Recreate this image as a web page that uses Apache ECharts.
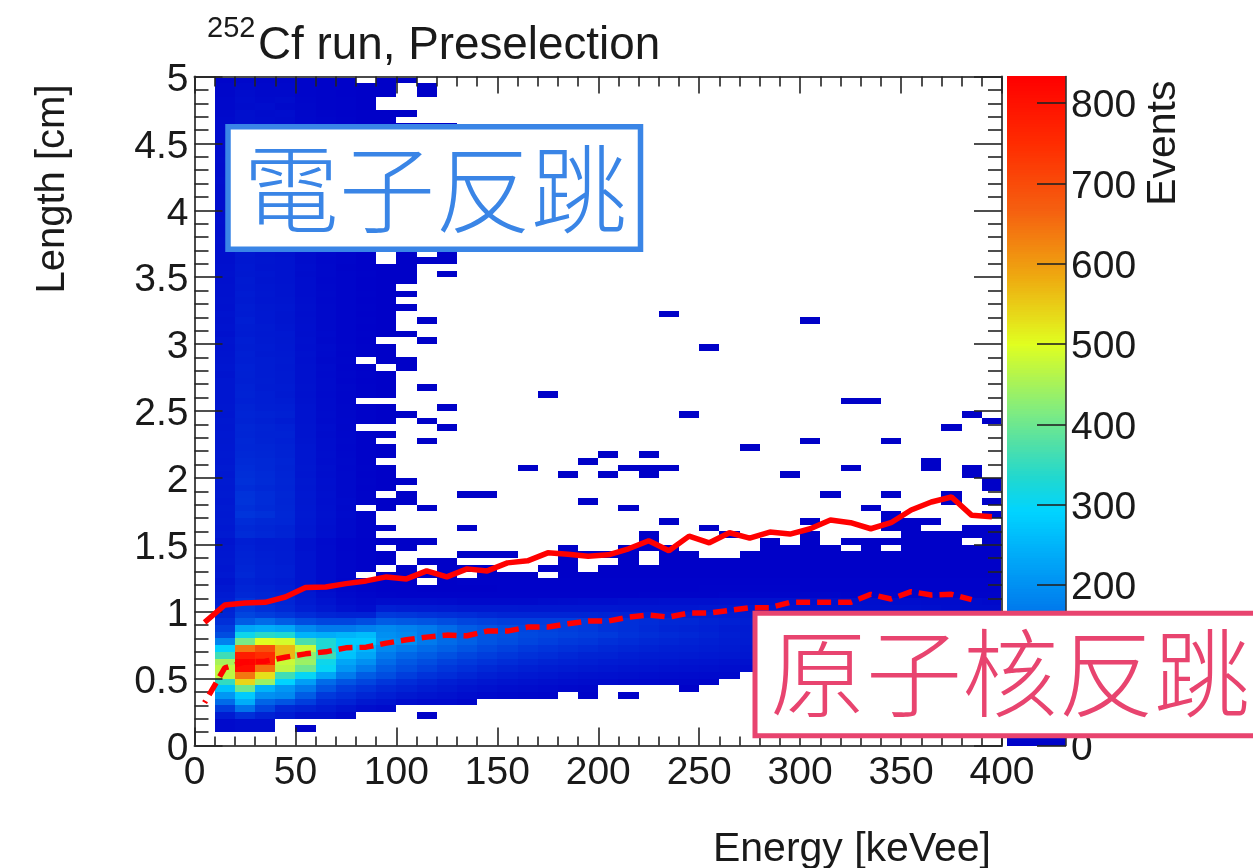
<!DOCTYPE html>
<html>
<head>
<meta charset="utf-8">
<style>html,body{margin:0;padding:0;background:#fff}#c{width:1253px;height:868px}</style>
<script src="https://cdn.jsdelivr.net/npm/echarts@6/dist/echarts.min.js"></script>
</head>
<body>
<div id="c"></div>
<script>
var energyTicks = [0, 50, 100, 150, 200, 250, 300, 350, 400];
var lengthTicks = [0, 0.5, 1, 1.5, 2, 2.5, 3, 3.5, 4, 4.5, 5];
var eventTicks = [0, 100, 200, 300, 400, 500, 600, 700, 800];
var energyBinWidth = 10;
var lengthBinWidth = 0.05;
var eventMax = 833;
var palette = ['#0000c8','#001cd2','#0038dc','#0058e4','#0078ec','#0096f4','#00b4fa','#00d4ff','#20d8d0','#50e0a8','#80ec80','#b0f450','#e0ff20','#e8d418','#eeaa10','#f28510','#f56010','#fa4608','#ff2c00','#ff1600','#ff0000'];

// length rows 30 down to 2; each row lists energy bins 1, 2, 3 ...
var lowRowStart = 30;
var lowBandRows = [
[30,45,40,40,25,15,8,4,2,2,1,0,0,0,0,0,0,0,0,0,0,1,0,0,0,0,0,1,0,1,0,1,1,1,1,1,1,0,1],
[32,48,42,40,26,16,8,4,0,1,0,0,0,0,0,0,0,1,0,0,1,1,1,0,0,0,0,1,1,1,1,0,1,0,1,1,1,1,1],
[34,50,45,42,28,16,9,5,2,0,0,0,1,1,1,0,0,1,1,1,1,0,1,1,0,0,1,1,1,1,1,1,1,1,1,1,1,1,1],
[35,52,46,42,28,16,9,5,2,0,1,1,0,0,0,0,0,1,0,0,1,0,2,2,2,2,2,2,2,2,2,2,2,2,2,2,2,2,2],
[33,55,48,44,28,16,9,5,0,1,0,1,1,1,0,0,1,2,0,2,2,2,2,2,2,2,2,2,2,2,2,2,2,2,2,2,2,2,2],
[36,58,48,44,28,17,9,0,2,2,1,1,0,2,2,2,0,2,2,2,2,2,2,2,2,2,2,2,2,2,2,2,2,2,2,2,2,2,2],
[30,50,45,40,28,16,8,5,3,2,0,2,3,3,3,3,3,3,3,3,3,3,3,3,3,3,3,3,3,3,3,3,3,3,3,3,3,3,3],
[35,55,50,45,30,18,10,6,3,3,2,2,2,2,3,3,3,3,3,3,3,3,3,3,4,4,4,4,4,3,3,3,3,3,3,3,3,3,3],
[40,60,55,50,35,22,14,9,6,5,5,4,4,4,4,5,5,5,5,5,5,6,6,6,6,7,7,7,7,7,7,6,6,6,6,6,6,5,5],
[45,75,60,55,38,28,18,13,18,18,18,16,14,14,14,14,16,18,20,20,22,22,24,24,24,26,26,26,25,24,22,22,22,20,20,18,18,16,14],
[50,85,70,60,45,35,25,20,45,42,40,38,35,35,35,34,34,34,34,34,32,32,32,32,35,35,35,32,30,28,26,26,24,24,24,22,20,18,18],
[55,100,90,80,65,55,50,50,85,80,75,70,65,60,55,55,55,55,55,52,50,48,45,45,45,42,40,38,35,33,30,30,28,28,26,25,24,22,20],
[70,130,150,130,110,100,100,110,130,125,120,110,100,95,90,90,90,90,85,75,70,65,60,58,52,48,45,40,38,35,33,32,30,28,27,26,25,24,22],
[90,230,240,230,190,170,170,180,190,180,170,150,130,120,110,100,95,90,85,75,70,62,55,52,48,42,40,36,35,32,30,30,28,26,25,24,22,22,20],
[110,310,340,330,250,240,250,260,200,190,170,150,130,120,115,105,100,95,90,85,75,68,62,58,52,45,42,38,36,35,32,32,30,28,26,26,24,24,22],
[180,410,500,490,370,330,280,280,210,200,170,150,135,120,110,100,92,85,80,72,65,60,55,50,46,42,40,38,36,34,32,30,28,28,26,25,24,22,22],
[290,640,690,570,480,330,280,250,190,170,150,135,120,105,95,85,78,72,65,60,55,50,46,44,42,38,36,34,32,30,28,28,26,25,24,22,22,20,20],
[360,780,750,570,430,360,270,230,170,145,130,115,100,90,80,72,65,58,52,50,45,42,40,38,36,34,32,30,28,28,26,24,24,22,22,20,20,18,18],
[450,830,760,480,440,310,230,200,150,125,110,95,85,75,65,58,52,48,44,40,38,35,32,30,28,26,25,24,24,22,22,20,20,18,18,16,16,15,15],
[470,810,650,470,400,300,210,170,130,110,95,80,70,60,52,46,42,38,35,32,30,28,26,24,22,20,20,20,18,18,16,16,15,15,14,14,12,12,12],
[470,640,530,360,300,230,170,130,110,90,75,65,55,46,40,36,32,28,26,24,22,20,18,16,15,15],
[350,540,440,290,220,150,120,100,80,65,55,45,38,32,28,25,22,20,18,16,14,12,10,10,8],
[270,400,250,210,170,120,90,75,60,50,42,35,28,24,20,18,15,12,10,0,0,0,0,3],
[210,280,200,190,130,85,70,55,45,35,30,25,20,15,12,10,9,0,6,0,3],
[150,240,140,120,90,60,50,35,30,20,15,15,10],
[90,160,100,60,50,40,30,20,15],
[40,70,50,40,25,25,15],
[15,20,20],
[15,20,20,0,3]
];

// length rows 99 down to 31; energy bins 1 to 9
var upperRowStart = 99;
var upperBandRows = [
[8,12,10,10,7,5,3,0,2],
[10,15,12,12,8,5,3,2,1],
[10,18,14,14,8,6,3,2,1],
[12,20,15,18,9,6,4,2,0],
[12,18,20,14,10,6,4,2,0],
[14,22,18,20,10,6,3,2,1],
[15,22,20,18,11,7,4,2,1],
[15,24,20,18,12,7,4,2,1],
[16,23,20,19,12,7,4,2,1],
[16,25,22,19,12,8,4,2,1],
[17,24,21,20,13,7,4,3,1],
[16,26,22,20,12,8,5,2,1],
[18,25,23,21,13,8,4,3,1],
[17,27,22,21,14,8,5,3,1],
[18,26,24,22,13,9,4,2,1],
[19,28,23,21,14,8,5,3,1],
[18,27,25,22,14,9,5,3,1],
[20,29,24,23,15,9,5,3,1],
[19,28,26,23,14,8,5,2,1],
[20,30,25,24,15,9,6,3,1],
[20,29,26,23,16,10,5,3,1],
[21,31,27,24,15,9,6,3,1],
[20,30,26,25,16,10,5,3,1],
[21,32,27,25,17,10,6,3,1],
[22,31,28,24,16,11,6,3,1],
[21,33,28,26,17,10,6,3,1],
[22,35,30,27,18,12,7,3,0],
[22,34,31,28,18,11,7,3,0],
[24,36,30,28,19,12,6,3,1],
[25,35,32,29,18,12,7,4,1],
[24,38,31,28,19,11,7,3,1],
[26,37,33,30,20,12,7,3,1],
[25,40,34,30,20,13,7,4,1],
[27,38,33,31,21,12,8,3,1],
[26,42,35,32,22,13,7,4,1],
[28,40,36,31,21,14,8,3,1],
[27,44,36,31,22,13,8,4,1],
[28,42,38,32,23,14,7,3,1],
[26,40,37,36,22,15,8,4,1],
[30,44,38,35,24,14,8,3,0],
[29,43,40,36,23,16,9,4,1],
[30,46,39,37,25,15,8,4,1],
[31,45,41,38,24,14,9,0,1],
[32,48,42,37,26,16,8,3,0],
[30,47,41,39,25,15,9,4,1],
[32,46,43,38,26,17,8,3,1],
[33,49,42,40,27,16,10,4,1],
[32,50,44,39,26,15,9,4,1],
[33,48,45,41,27,17,9,0,0],
[34,52,46,44,28,16,10,4,1],
[33,54,50,47,29,18,10,5,1],
[35,52,47,42,28,17,11,4,1],
[34,56,52,48,30,19,10,0,0],
[36,55,50,50,30,18,11,5,1],
[35,58,52,48,31,20,12,5,0],
[36,57,55,50,32,19,11,4,1],
[37,60,56,50,33,21,12,5,1],
[36,62,60,54,32,20,13,5,0],
[38,65,60,52,34,22,12,6,1],
[36,68,62,54,33,21,13,5,1],
[38,72,64,55,35,23,14,6,1],
[37,66,60,53,34,22,13,5,1],
[38,74,65,56,36,24,14,6,0],
[36,76,66,55,35,23,15,6,1],
[38,70,62,56,36,24,14,0,1],
[37,78,72,58,37,25,15,6,0],
[38,66,60,57,36,24,14,6,0],
[36,60,55,50,34,22,13,6,1],
[38,64,58,52,35,23,14,6,0]
];

// isolated filled bins: energy bin, length row, events
var isolatedBins = [
[10,99,2],[11,98,2],[11,97,2],[10,94,2],[10,92,2],[11,92,2],[12,92,2],[10,73,2],[12,73,2],[10,72,2],[11,72,2],[12,72,2],
[10,71,2],[10,70,2],[12,70,2],[10,69,2],[10,67,2],[10,65,2],[11,63,2],[10,61,2],[11,60,2],[10,57,2],[10,56,2],[11,53,2],
[12,50,2],[10,49,2],[11,48,2],[12,47,2],[11,45,2],[10,39,2],[10,37,2],[13,37,2],[14,37,2],[10,36,2],[11,35,2],[13,32,2],
[11,4,2],[23,64,1],[25,59,1],[17,52,1],[24,49,1],[27,44,1],[20,43,1],[22,43,1],[19,42,1],[16,41,1],[21,41,1],[22,41,1],
[23,41,1],[18,40,1],[20,40,1],[22,40,1],[19,36,1],[21,35,1],[23,33,1],[25,32,1],[22,31,1],[26,31,1],[30,63,1],[32,51,1],
[33,51,1],[38,49,1],[39,48,1],[37,47,1],[30,45,1],[34,45,1],[36,42,1],[36,41,1],[38,41,1],[32,41,1],[29,40,1],[38,40,1],
[39,39,1],[39,38,1],[31,37,1],[34,37,1],[37,37,1],[37,36,1],[39,36,1],[33,35,1],[34,34,1],[39,34,1],[30,33,1],[34,33,1],
[35,33,1],[36,33,1],[34,32,1],[35,32,1],[38,32,1],[39,32,1],[30,31,1],[35,31,1],[36,31,1],[37,31,1],[38,31,1],[39,31,1]
];

var binCenters = [5,15,25,35,45,55,65,75,85,95,105,115,125,135,145,155,165,175,185,195,205,215,225,235,245,255,265,275,285,295,305,315,325,335,345,355,365,375,385,395];
var upperBoundary = [0.92,1.05,1.065,1.07,1.11,1.18,1.185,1.21,1.23,1.26,1.245,1.305,1.26,1.32,1.305,1.365,1.38,1.44,1.43,1.415,1.425,1.47,1.53,1.455,1.565,1.515,1.59,1.55,1.595,1.58,1.62,1.685,1.665,1.62,1.665,1.76,1.82,1.857,1.72,1.71];
var lowerBoundary = [0.32,0.58,0.625,0.63,0.66,0.685,0.70,0.73,0.735,0.765,0.79,0.81,0.825,0.82,0.855,0.855,0.885,0.885,0.91,0.93,0.93,0.96,0.975,0.96,0.99,0.99,1.01,1.03,1.03,1.07,1.07,1.07,1.07,1.13,1.095,1.15,1.125,1.13,1.09];

var cells = [];
function addRows(rows, start) {
  rows.forEach(function (row, r) {
    row.forEach(function (v, c) {
      if (v > 0) cells.push([(c + 1) * energyBinWidth, (start - r) * lengthBinWidth, v]);
    });
  });
}
addRows(upperBandRows, upperRowStart);
addRows(lowBandRows, lowRowStart);
isolatedBins.forEach(function (b) { cells.push([b[0] * energyBinWidth, b[1] * lengthBinWidth, b[2]]); });

// colour key: one thin band per level of the events scale
var keyStep = 3;
var keyBands = [];
for (var lv = 0; lv < eventMax; lv += keyStep) keyBands.push([0, lv, lv + keyStep / 2]);

function pairs(ys) { return ys.map(function (y, i) { return [binCenters[i], y]; }); }

var FONT = '"Liberation Sans", Arial, sans-serif';
var CJK = '"Noto Sans CJK TC", "Noto Sans CJK JP", sans-serif';
var ink = '#1a1a1a';
var frame = {show: true, onZero: false, lineStyle: {color: '#4a4a4a', width: 2}};
function ticks(len) { return {show: true, inside: true, length: len, lineStyle: {color: '#222', width: 1.6}}; }
function minor(len) { return {show: true, splitNumber: 5, length: len, lineStyle: {color: '#222', width: 1.6}}; }
var labelStyle = {fontFamily: FONT, fontSize: 39, color: ink};
var shiftedLabel = {formatter: '{t|{value}}', rich: {t: {fontFamily: FONT, fontSize: 39, color: ink, padding: [7, 0, 0, 0]}}};

var chart = echarts.init(document.getElementById('c'), null, {renderer: 'canvas'});
chart.setOption({
  animation: false,
  backgroundColor: '#fff',
  title: [
    {text: 'Cf run, Preselection', left: 258, top: 23, padding: 0, textStyle: {fontFamily: FONT, fontSize: 45.8, fontWeight: 'normal', color: ink}},
    {text: '252', left: 207, top: 14, padding: 0, textStyle: {fontFamily: FONT, fontSize: 29, fontWeight: 'normal', color: ink}}
  ],
  grid: [
    {left: 194.5, right: 251, top: 76.5, bottom: 122.5, containLabel: false, outerBoundsMode: 'none'},
    {left: 1007, right: 187, top: 76.5, bottom: 122.5, containLabel: false, outerBoundsMode: 'none'}
  ],
  xAxis: [
    {type: 'value', gridIndex: 0, position: 'bottom', min: energyTicks[0], max: energyTicks[energyTicks.length - 1], interval: 50, zlevel: 1,
     axisLine: frame, axisTick: ticks(18), minorTick: minor(9), splitLine: {show: false},
     axisLabel: Object.assign({margin: 8}, labelStyle),
     name: 'Energy [keVee]', nameLocation: 'end', nameGap: -11, nameMoveOverlap: false,
     nameTextStyle: {fontFamily: FONT, fontSize: 41, color: ink, align: 'right', verticalAlign: 'top', padding: [84, 0, 0, 0]}},
    {type: 'value', gridIndex: 0, position: 'top', min: 0, max: 400, interval: 50, zlevel: 1,
     axisLine: frame, axisTick: ticks(17), minorTick: minor(10), splitLine: {show: false}, axisLabel: {show: false}},
    {type: 'value', gridIndex: 1, show: false, min: 0, max: 1}
  ],
  yAxis: [
    {type: 'value', gridIndex: 0, position: 'left', min: lengthTicks[0], max: lengthTicks[lengthTicks.length - 1], interval: 0.5, zlevel: 1,
     axisLine: frame, axisTick: ticks(28), minorTick: minor(14), splitLine: {show: false},
     axisLabel: Object.assign({margin: 6}, shiftedLabel),
     name: 'Length [cm]', nameLocation: 'end', nameRotate: 90, nameGap: -8, nameMoveOverlap: false,
     nameTextStyle: {fontFamily: FONT, fontSize: 40, color: ink, align: 'right', verticalAlign: 'bottom', padding: [0, 0, 122, 0]}},
    {type: 'value', gridIndex: 0, position: 'right', min: 0, max: 5, interval: 0.5, zlevel: 1,
     axisLine: frame, axisTick: ticks(28), minorTick: minor(14), splitLine: {show: false}, axisLabel: {show: false}},
    {type: 'value', gridIndex: 1, position: 'right', min: eventTicks[0], max: eventMax, interval: 100, zlevel: 1,
     axisLine: {show: true, onZero: false, lineStyle: {color: '#333', width: 1.6}}, axisTick: ticks(29), minorTick: {show: false}, splitLine: {show: false},
     axisLabel: Object.assign({margin: 5, showMaxLabel: false}, shiftedLabel),
     name: 'Events', nameLocation: 'end', nameRotate: 90, nameGap: -4, nameMoveOverlap: false,
     nameTextStyle: {fontFamily: FONT, fontSize: 41, color: ink, align: 'right', verticalAlign: 'top', padding: [77, 0, 0, 0]}}
  ],
  visualMap: {
    type: 'continuous', seriesIndex: [0, 1], dimension: 2, min: 0, max: eventMax,
    calculable: false, show: false, inRange: {color: palette}
  },
  series: [
    {
      type: 'custom', name: 'Events', xAxisIndex: 0, yAxisIndex: 0, coordinateSystem: 'cartesian2d',
      dimensions: ['energy', 'length', 'events'], encode: {x: 0, y: 1}, data: cells, z: 2, silent: true,
      renderItem: function (params, api) {
        var a = api.coord([api.value(0), api.value(1) + lengthBinWidth]);
        var b = api.coord([api.value(0) + energyBinWidth, api.value(1)]);
        var x0 = Math.round(a[0]), y0 = Math.round(a[1]);
        return {type: 'rect', shape: {x: x0, y: y0, width: Math.round(b[0]) - x0, height: Math.round(b[1]) - y0}, style: {fill: api.visual('color')}};
      }
    },
    {
      type: 'custom', name: 'Colour key', xAxisIndex: 2, yAxisIndex: 2, coordinateSystem: 'cartesian2d',
      dimensions: ['x', 'level', 'events'], encode: {x: 0, y: 1}, data: keyBands, z: 2, silent: true,
      renderItem: function (params, api) {
        var a = api.coord([0, Math.min(api.value(1) + keyStep, eventMax)]);
        var b = api.coord([1, api.value(1)]);
        var y0 = Math.floor(a[1]);
        return {type: 'rect', shape: {x: a[0], y: y0, width: b[0] - a[0], height: Math.ceil(b[1]) - y0}, style: {fill: api.visual('color')}};
      }
    },
    {type: 'line', name: 'upper', xAxisIndex: 0, yAxisIndex: 0, data: pairs(upperBoundary), showSymbol: false, zlevel: 2, silent: true,
     lineStyle: {color: '#ff0000', width: 5.5}},
    {type: 'line', name: 'lower', xAxisIndex: 0, yAxisIndex: 0, data: pairs(lowerBoundary), showSymbol: false, zlevel: 2, silent: true,
     lineStyle: {color: '#ff0000', width: 5.5, type: [14, 7], dashOffset: 12}}
  ],
  graphic: [
    {type: 'rect', zlevel: 3, z: 50, shape: {x: 228, y: 126.7, width: 412.5, height: 122.5}, style: {fill: '#fff', stroke: '#3a85e6', lineWidth: 5.5}},
    {type: 'text', zlevel: 3, z: 51, x: 243, y: 189, style: {text: '電子反跳', font: '300 96px ' + CJK, fill: '#3a85e6', textVerticalAlign: 'middle'}},
    {type: 'rect', zlevel: 3, z: 50, shape: {x: 755, y: 613.3, width: 520, height: 122.5}, style: {fill: '#fff', stroke: '#e8446f', lineWidth: 5}},
    {type: 'text', zlevel: 3, z: 51, x: 770, y: 673, style: {text: '原子核反跳', font: '300 96px ' + CJK, fill: '#e8446f', textVerticalAlign: 'middle'}}
  ]
});
</script>
</body>
</html>
